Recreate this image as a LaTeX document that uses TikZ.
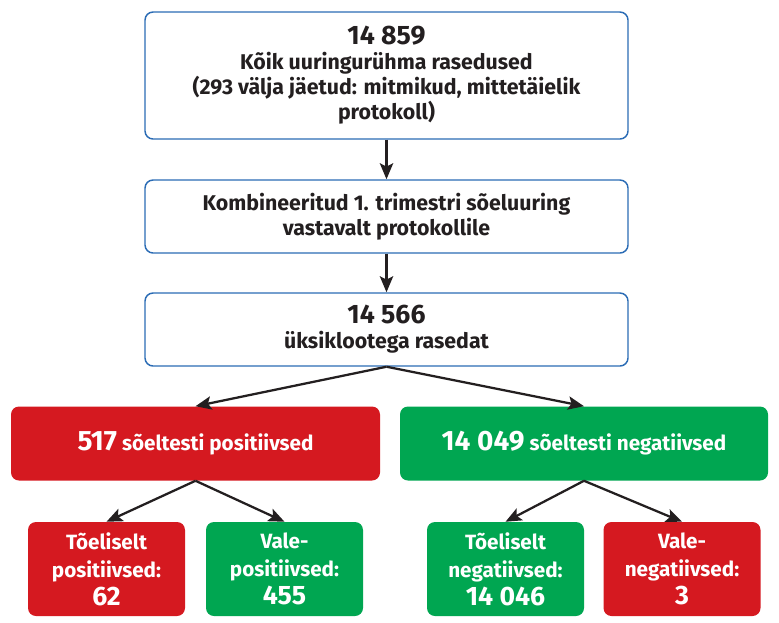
\documentclass[tikz,border=0pt]{standalone}
\usepackage{fontspec}
\setmainfont{Fira Sans}
\usetikzlibrary{arrows.meta}
\definecolor{ink}{HTML}{231F20}
\definecolor{frame}{HTML}{2B6CB5}
\definecolor{lred}{HTML}{D51920}
\definecolor{lgreen}{HTML}{00A651}
\tikzset{
	wh/.style 2 args={minimum width=#1*0.75pt, minimum height=#2*0.75pt},
	box/.style={draw=frame, line width=1.1pt, rounded corners=6pt, fill=white, text=ink, align=center, inner sep=0pt},
	redbox/.style={fill=lred, rounded corners=6pt, text=white, align=center, inner sep=0pt},
	greenbox/.style={fill=lgreen, rounded corners=6pt, text=white, align=center, inner sep=0pt},
	link/.style={->, line width=1.7pt, draw=ink}
}
\newcommand{\nbig}[1]{{\fontsize{20}{24}\selectfont #1}}
\begin{document}
\begin{tikzpicture}[x=0.75pt, y=-0.75pt, line join=round, >={Stealth[length=12pt,width=10pt,inset=2.5pt]}, font=\bfseries\fontsize{16}{18.8}\selectfont]
				\useasboundingbox (0,0) rectangle (779,622);
				\node[box, wh={483}{127}] (koik) at (386.5,75.5) {\nbig{14 859}\\Kõik uuringurühma rasedused\\(293 välja jäetud: mitmikud, mittetäielik\\protokoll)};
				\node[box, wh={483}{73}] (skriin) at (386.5,216.5) {Kombineeritud 1. trimestri sõeluuring\\vastavalt protokollile};
				\node[box, wh={483}{73}] (yksik) at (386.5,329.5) {\nbig{14 566}\\üksiklootega rasedat};
				\node[redbox, wh={369}{74}] (pos) at (195.5,443.5) {{\fontsize{21}{24}\selectfont 517} \fontsize{15.5}{18}\selectfont sõeltesti positiivsed};
				\node[greenbox, wh={368}{74}] (neg) at (584,443.5) {{\fontsize{21}{24}\selectfont 14 049} \fontsize{15.5}{18}\selectfont sõeltesti negatiivsed};
				\foreach \n/\s/\x/\t in {tp/redbox/106.5/{Tõeliselt\\positiivsed:\\\nbig{62}}, fp/greenbox/284.5/{Vale-\\positiivsed:\\\nbig{455}}, tn/greenbox/505.5/{Tõeliselt\\negatiivsed:\\\nbig{14 046}}, fn/redbox/682/{Vale-\\negatiivsed:\\\nbig{3}}}{
				\node[\s, wh={157}{94}, font=\bfseries\fontsize{15.5}{21}\selectfont] (\n) at (\x,569) {\t};}
				\draw[link] (koik)--(skriin);
				\draw[link] (skriin)--(yksik);
				\foreach \a/\b in {yksik/pos, yksik/neg, pos/tp, pos/fp, neg/tn, neg/fn}{\draw[link] (\a.south)--(\b.north);}
			\end{tikzpicture}
\end{document}
